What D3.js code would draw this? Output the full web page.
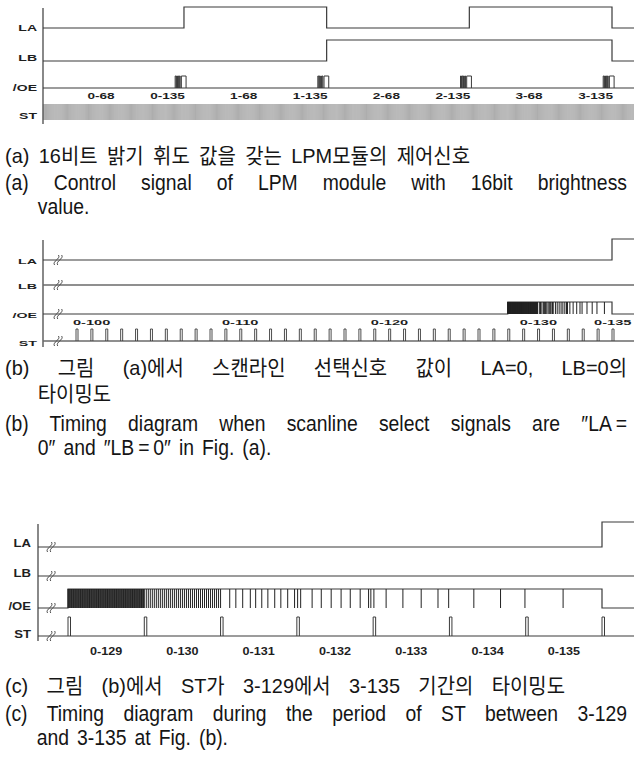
<!DOCTYPE html>
<html>
<head>
<meta charset="utf-8">
<script src="https://cdn.jsdelivr.net/npm/d3@7"></script>
<style>
  body { margin: 0; background: #fff; }
  svg { display: block; }
  .sig { fill: none; stroke: #3a3a3a; stroke-width: 1.2; }
  .sig.light { stroke: #6a6a6a; stroke-width: 1.5; }
  .tick { stroke: #222; stroke-width: 0.9; }
  .comb { stroke: #5a5a5a; stroke-width: 0.5; }
  .rowlab, .ticklab { font-family: "Liberation Sans", Arial, sans-serif; font-weight: bold; fill: #1e1e1e; }
  .cap { font-family: "Liberation Sans", "Noto Sans CJK KR", sans-serif; fill: #151515; }
</style>
</head>
<body>
<div id="fig"></div>
<script>
// ---- data ----
const rowNames = ["LA", "LB", "/OE", "ST"];

// (a) four scanlines, 136 ST clocks each
const clocksPerLine = 136;
const laLevelsA = [0, 1, 0, 1, 0];
const lbLevelsA = [0, 0, 1, 1, 0];
const stClockCountA = 566;
const oeBurstA = [[127.6, 128.5], [129.0, 129.8], [130.4, 131.0], [131.6, 132.4], [133.5, 138.0]];
const tickLabelsA = ["0-68", "0-135", "1-68", "1-135", "2-68", "2-135", "3-68", "3-135"];
const tickClocksA = [68, 135, 204, 271, 340, 407, 476, 543];

// (b) scanline 0, ST clocks 100..136
const stFirstB = 100, stLastB = 136;
const laStepB = 136;
const tickLabelsB = ["0-100", "0-110", "0-120", "0-130", "0-135"];
const tickClocksB = [100, 110, 120, 130, 135];

// (c) ST clocks 129..136
const stClocksC = [129, 130, 131, 132, 133, 134, 135, 136];
const laStepC = 136;
const tickLabelsC = ["0-129", "0-130", "0-131", "0-132", "0-133", "0-134", "0-135"];
const tickClocksC = [129, 130, 131, 132, 133, 134, 135];

// /OE: high from clock 129 to 136, sliced densely in 129 and 130, then single edges
const oeStart = 129, oeEnd = 136;
const oeDenseClocks = [129, 130];
const oeDenseSlices = [110, 38];
const oeEdges = [131.0, 131.12, 131.2, 131.29, 131.39, 131.46, 131.54, 131.62, 131.71, 131.79,
  131.88, 131.97, 132.01, 132.05, 132.2, 132.32, 132.45, 132.58, 132.7, 132.83, 132.94, 132.97,
  133.01, 133.17, 133.39, 133.63, 133.85, 133.99, 134.32, 134.67, 134.99, 135.49];

// captions
const captionA = [
  "(a) 16비트 밝기 휘도 값을 갖는 LPM모듈의 제어신호",
  "(a) Control signal of LPM module with 16bit brightness",
  "value."
];
const captionB = [
  "(b) 그림 (a)에서 스캔라인 선택신호 값이 LA=0, LB=0의",
  "타이밍도",
  "(b) Timing diagram when scanline select signals are ″LA\u2009=",
  "0″ and ″LB\u2009=\u20090″ in Fig. (a)."
];
const captionC = [
  "(c) 그림 (b)에서 ST가 3-129에서 3-135 기간의 타이밍도",
  "(c) Timing diagram during the period of ST between 3-129",
  "and 3-135 at Fig. (b)."
];

// ---- drawing ----
const W = 634, H = 762;
const svg = d3.select("#fig").append("svg").attr("width", W).attr("height", H);

function stepPath(x, base, amp) {
  return d3.line()
    .x(d => x(d[0]))
    .y(d => base - d[1] * amp)
    .curve(d3.curveStepAfter);
}

function pulsePath(x0, x1, base, top) {
  return `M${x0},${base}V${top}H${x1}V${base}`;
}

function wideText(g, cls, str, x, y, size, sx, anchor) {
  g.append("text")
    .attr("class", cls)
    .attr("transform", `translate(${x},${y}) scale(${sx},1)`)
    .attr("text-anchor", anchor)
    .style("font-size", size + "px")
    .text(str);
}

function squiggle(g, x, y) {
  [0, 3.2].forEach(dx => {
    g.append("path")
      .attr("class", "sig")
      .style("stroke-width", 0.9)
      .attr("d", `M${x + dx - 2.5},${y + 5} C${x + dx - 5},${y + 1} ${x + dx + 4},${y - 1} ${x + dx + 1.5},${y - 5}`);
  });
}

function frame(g, p) {
  g.append("line").attr("class", "sig")
    .attr("x1", p.axisX).attr("x2", p.axisX)
    .attr("y1", p.axisTop).attr("y2", p.axisBottom);
  rowNames.forEach((name, i) => {
    wideText(g, "rowlab", name, p.labelX, p.labelY[i], p.labelSize, p.labelSx, "end");
  });
}

// (a)
(function panelA() {
  const p = {axisX: 43, axisTop: 8, axisBottom: 124, right: W,
    rowY: [28, 61, 88, 120], amp: [21, 21, 12, 16],
    labelX: 37, labelY: [31, 61, 91, 119], labelSize: 8.5, labelSx: 1.65};
  const x = d3.scaleLinear().domain([0, 4 * clocksPerLine]).range([41.3, 612]);
  const g = svg.append("g");
  frame(g, p);
  const left = x.invert(p.axisX), right = x.invert(p.right);

  function levelPts(levels) {
    const pts = levels.map((v, i) => [i === 0 ? left : i * clocksPerLine, v]);
    pts.push([right, levels[levels.length - 1]]);
    return pts;
  }
  g.append("path").attr("class", "sig").attr("d", stepPath(x, p.rowY[0], p.amp[0])(levelPts(laLevelsA)));
  g.append("path").attr("class", "sig").attr("d", stepPath(x, p.rowY[1], p.amp[1])(levelPts(lbLevelsA)));

  // /OE
  g.append("line").attr("class", "sig")
    .attr("x1", p.axisX).attr("x2", p.right).attr("y1", p.rowY[2]).attr("y2", p.rowY[2]);
  laLevelsA.slice(0, 4).forEach((_, line) => {
    oeBurstA.forEach(b => {
      g.append("path").attr("class", "sig").style("stroke-width", 1)
        .attr("d", pulsePath(x(line * clocksPerLine + b[0]), x(line * clocksPerLine + b[1]), p.rowY[2], p.rowY[2] - p.amp[2]));
    });
  });
  tickLabelsA.forEach((t, i) => {
    wideText(g, "ticklab", t, x(tickClocksA[i]) + 2, 98.5, 8.5, 1.6, "end");
  });

  // ST comb
  g.selectAll("line.comb").data(d3.range(2, stClockCountA)).join("line")
    .attr("class", "comb")
    .attr("x1", d => x(d)).attr("x2", d => x(d))
    .attr("y1", p.rowY[3] - p.amp[3]).attr("y2", p.rowY[3]);
})();

function oeDetail(g, x, base, top, left, right, sw) {
  g.append("path").attr("class", "sig")
    .attr("d", stepPath(x, base, base - top)([[left, 0], [oeStart, 1], [oeEnd, 0], [right, 0]]));
  const slices = [];
  oeDenseClocks.forEach((c, i) => {
    for (let k = 0; k < oeDenseSlices[i]; k++) slices.push(c + k / oeDenseSlices[i]);
  });
  g.append("g").selectAll("line").data(slices.concat(oeEdges)).join("line")
    .attr("class", "tick").style("stroke-width", sw)
    .attr("x1", d => x(d)).attr("x2", d => x(d))
    .attr("y1", base).attr("y2", top);
}

// (b)
(function panelB() {
  const p = {axisX: 43, axisTop: 240, axisBottom: 347, right: W,
    rowY: [260, 285, 314, 341], amp: [21, 0, 12, 12],
    labelX: 37, labelY: [264, 289, 318, 346], labelSize: 7.5, labelSx: 1.9, squigX: 57};
  const x = d3.scaleLinear().domain([stFirstB, stLastB]).range([76, 612]);
  const g = svg.append("g");
  frame(g, p);
  const left = x.invert(p.axisX), right = x.invert(p.right);

  g.append("path").attr("class", "sig")
    .attr("d", stepPath(x, p.rowY[0], p.amp[0])([[left, 0], [laStepB, 1], [right, 1]]));
  g.append("path").attr("class", "sig light")
    .attr("d", stepPath(x, p.rowY[1], p.amp[1])([[left, 0], [right, 0]]));
  oeDetail(g, x, p.rowY[2], p.rowY[2] - p.amp[2], left, right, 1);

  tickLabelsB.forEach((t, i) => {
    wideText(g, "ticklab", t, x(tickClocksB[i]) - 3, 324.5, 7.5, 1.95, "start");
  });

  // ST
  g.append("line").attr("class", "sig light")
    .attr("x1", p.axisX).attr("x2", p.right).attr("y1", p.rowY[3]).attr("y2", p.rowY[3]);
  g.append("g").selectAll("path").data(d3.range(stFirstB, stLastB + 1)).join("path")
    .attr("class", "sig").style("stroke-width", 0.9)
    .attr("d", d => pulsePath(x(d), x(d) + 2, p.rowY[3], p.rowY[3] - p.amp[3]));

  p.rowY.forEach(y => squiggle(g, p.squigX, y));
})();

// (c)
(function panelC() {
  const p = {axisX: 38, axisTop: 524, axisBottom: 641, right: W,
    rowY: [547, 576, 608, 636], amp: [25, 0, 19, 19],
    labelX: 31, labelY: [547, 577, 610, 638], labelSize: 10.5, labelSx: 1.25, squigX: 50};
  const x = d3.scaleLinear().domain([stClocksC[0], stClocksC[stClocksC.length - 1]]).range([68, 602]);
  const g = svg.append("g");
  frame(g, p);
  const left = x.invert(p.axisX), right = x.invert(p.right);

  g.append("path").attr("class", "sig")
    .attr("d", stepPath(x, p.rowY[0], p.amp[0])([[left, 0], [laStepC, 1], [right, 1]]));
  g.append("path").attr("class", "sig")
    .attr("d", stepPath(x, p.rowY[1], p.amp[1])([[left, 0], [right, 0]]));
  oeDetail(g, x, p.rowY[2], p.rowY[2] - p.amp[2], left, right, 1);

  // ST
  g.append("line").attr("class", "sig")
    .attr("x1", p.axisX).attr("x2", p.right).attr("y1", p.rowY[3]).attr("y2", p.rowY[3]);
  g.append("g").selectAll("path").data(stClocksC).join("path")
    .attr("class", "sig").style("stroke-width", 1)
    .attr("d", d => pulsePath(x(d), x(d) + 2.5, p.rowY[3], p.rowY[3] - p.amp[3]));

  tickLabelsC.forEach((t, i) => {
    wideText(g, "ticklab", t, x(tickClocksC[i] + 0.5), 654.5, 10.5, 1.2, "middle");
  });

  p.rowY.forEach(y => squiggle(g, p.squigX, y));
})();

// captions: Korean lines and narrow English lines, spread to the printed line ends
const capLeft = 5, capExtra = 3;
const hangul = /[\uAC00-\uD7AF]/;
function capStyle(str) {
  return hangul.test(str) ? {size: 21, sx: 0.95} : {size: 22, sx: 0.88};
}
function drawCaption(lines, baselines, rights) {
  const g = svg.append("g").attr("class", "cap");
  const s0 = capStyle(lines[0]);
  const probe = g.append("text").style("font-size", s0.size + "px").text(lines[0].split(" ")[0] + "\u00a0");
  const indent = capLeft + (probe.node().getComputedTextLength() + capExtra) * s0.sx;
  probe.remove();

  lines.forEach((str, i) => {
    const s = capStyle(str);
    const startX = i > 0 && !/^\(/.test(str) ? indent : capLeft;
    const t = g.append("text")
      .style("font-size", s.size + "px")
      .attr("transform", `translate(${startX},${baselines[i]}) scale(${s.sx},1)`)
      .text(str);
    let ws = capExtra;
    if (rights[i] !== null) {
      const natural = t.node().getComputedTextLength();
      const spaces = str.split(" ").length - 1;
      ws = ((rights[i] - startX) / s.sx - natural) / spaces;
    }
    t.attr("word-spacing", ws);
  });
}
drawCaption(captionA, [163, 190, 214], [470, 627, null]);
drawCaption(captionB, [375, 401, 431, 455], [627, null, 627, null]);
drawCaption(captionC, [693, 721, 745], [565, 627, null]);
</script>
</body>
</html>
